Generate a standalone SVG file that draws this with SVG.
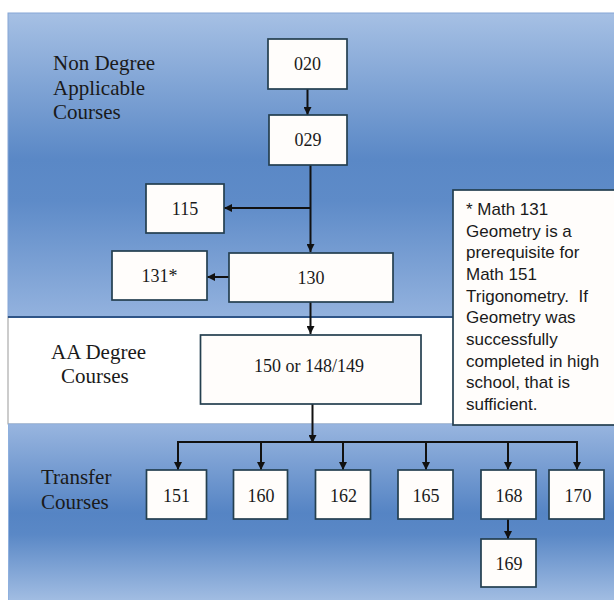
<svg xmlns="http://www.w3.org/2000/svg" width="614" height="600" viewBox="0 0 614 600">
<defs>
<linearGradient id="gTop" x1="0" y1="0" x2="0" y2="1">
<stop offset="0" stop-color="#a6c0e4"/>
<stop offset="0.48" stop-color="#5a88c6"/>
<stop offset="0.62" stop-color="#5e8bc8"/>
<stop offset="1" stop-color="#93b2de"/>
</linearGradient>
<linearGradient id="gBot" x1="0" y1="0" x2="0" y2="1">
<stop offset="0" stop-color="#98b5df"/>
<stop offset="0.5" stop-color="#5584c4"/>
<stop offset="0.62" stop-color="#5a88c6"/>
<stop offset="1" stop-color="#a3bee3"/>
</linearGradient>
<marker id="ah" viewBox="0 0 10 10" refX="10" refY="5" markerWidth="8" markerHeight="8" markerUnits="userSpaceOnUse" orient="auto">
<path d="M0,0 L10,5 L0,10 z" fill="#111"/>
</marker>
<style>
.box{fill:#fffdfb;stroke:#243f4f;stroke-width:1.7}
.t{font-family:"Liberation Serif","Times New Roman",serif;font-size:18px;fill:#1a1a1a;text-anchor:middle}
.lab{font-family:"Liberation Serif","Times New Roman",serif;font-size:21px;fill:#1a1a1a}
.note{font-family:"Liberation Sans",Arial,sans-serif;font-size:17px;fill:#1a1a1a}
.ln{fill:none;stroke:#111;stroke-width:2}
</style>
</defs>
<g id="background">
<rect x="8" y="13" width="608" height="304" fill="url(#gTop)" stroke="#86a6d6" stroke-width="1"/>
<rect x="8" y="317" width="608" height="107" fill="#ffffff" stroke="#9a9a9a" stroke-width="1"/>
<line x1="8" y1="317" x2="616" y2="317" stroke="#2f5588" stroke-width="2"/>
<rect x="8" y="424" width="608" height="178" fill="url(#gBot)"/>
<line x1="8" y1="424" x2="616" y2="424" stroke="#8fb0de" stroke-width="1"/>
<line x1="8.5" y1="424" x2="8.5" y2="600" stroke="#8fb0de" stroke-width="1"/>
</g>
<g id="labels">
<text class="lab" x="53" y="70">Non Degree</text>
<text class="lab" x="53" y="95">Applicable</text>
<text class="lab" x="53" y="119">Courses</text>
<text class="lab" x="51" y="359">AA Degree</text>
<text class="lab" x="61" y="383">Courses</text>
<text class="lab" x="41" y="484">Transfer</text>
<text class="lab" x="41" y="509">Courses</text>
</g>
<g id="connectors">
<line class="ln" x1="307.5" y1="89" x2="307.5" y2="115" marker-end="url(#ah)"/>
<line class="ln" x1="310.5" y1="165" x2="310.5" y2="252" marker-end="url(#ah)"/>
<line class="ln" x1="310.5" y1="208" x2="224" y2="208" marker-end="url(#ah)"/>
<line class="ln" x1="229" y1="277" x2="207" y2="277" marker-end="url(#ah)"/>
<line class="ln" x1="310.5" y1="302" x2="310.5" y2="334" marker-end="url(#ah)"/>
<line class="ln" x1="312.5" y1="404" x2="312.5" y2="443" marker-end="url(#ah)"/>
<polyline class="ln" points="178,468 178,442 577,442 577,468"/>
<line class="ln" x1="178" y1="442" x2="178" y2="470" marker-end="url(#ah)"/>
<line class="ln" x1="261" y1="442" x2="261" y2="470" marker-end="url(#ah)"/>
<line class="ln" x1="343" y1="442" x2="343" y2="470" marker-end="url(#ah)"/>
<line class="ln" x1="426" y1="442" x2="426" y2="470" marker-end="url(#ah)"/>
<line class="ln" x1="508" y1="442" x2="508" y2="470" marker-end="url(#ah)"/>
<line class="ln" x1="577" y1="442" x2="577" y2="470" marker-end="url(#ah)"/>
<line class="ln" x1="508" y1="519" x2="508" y2="539" marker-end="url(#ah)"/>
</g>
<g id="n020"><rect class="box" x="268" y="39" width="79" height="50"/><text class="t" x="307.5" y="70">020</text></g>
<g id="n029"><rect class="box" x="269" y="115" width="78" height="50"/><text class="t" x="308" y="146">029</text></g>
<g id="n115"><rect class="box" x="146" y="184" width="78" height="49"/><text class="t" x="185" y="215">115</text></g>
<g id="n131"><rect class="box" x="112" y="251" width="95" height="49"/><text class="t" x="159.5" y="282">131*</text></g>
<g id="n130"><rect class="box" x="229" y="253" width="164" height="49"/><text class="t" x="311" y="284">130</text></g>
<g id="n150"><rect class="box" x="200.5" y="335" width="220.5" height="69"/><text class="t" x="309" y="372">150 or 148/149</text></g>
<g id="note">
<rect x="453" y="190" width="165" height="235" fill="#fffdfb" stroke="#243f4f" stroke-width="1.7"/>
<text class="note" x="466" y="215">* Math 131</text>
<text class="note" x="466" y="237">Geometry is a</text>
<text class="note" x="466" y="258">prerequisite for</text>
<text class="note" x="466" y="280">Math 151</text>
<text class="note" x="466" y="302" xml:space="preserve">Trigonometry.  If</text>
<text class="note" x="466" y="323">Geometry was</text>
<text class="note" x="466" y="345">successfully</text>
<text class="note" x="466" y="367">completed in high</text>
<text class="note" x="466" y="388">school, that is</text>
<text class="note" x="466" y="410">sufficient.</text>
</g>
<g id="n151"><rect class="box" x="146.5" y="470" width="60" height="49"/><text class="t" x="176.5" y="502">151</text></g>
<g id="n160"><rect class="box" x="233.5" y="470" width="54" height="49"/><text class="t" x="261" y="502">160</text></g>
<g id="n162"><rect class="box" x="315.5" y="470" width="55" height="49"/><text class="t" x="343.5" y="502">162</text></g>
<g id="n165"><rect class="box" x="398" y="470" width="55" height="49"/><text class="t" x="426" y="502">165</text></g>
<g id="n168"><rect class="box" x="481" y="470" width="55" height="49"/><text class="t" x="509" y="502">168</text></g>
<g id="n170"><rect class="box" x="549" y="470" width="55" height="49"/><text class="t" x="578" y="502">170</text></g>
<g id="n169"><rect class="box" x="481" y="539" width="55" height="48"/><text class="t" x="509" y="570">169</text></g>
</svg>
